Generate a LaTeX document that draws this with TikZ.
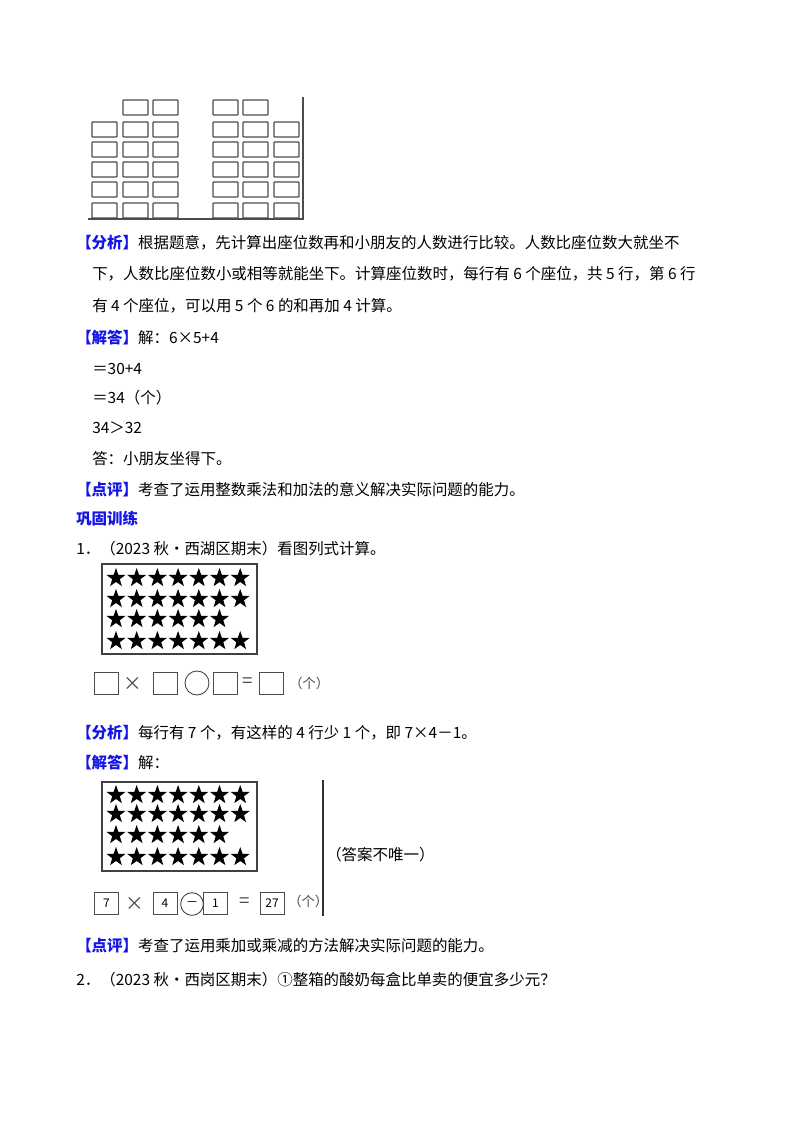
\documentclass[tikz,border=0pt]{standalone}
\usepackage{fontspec}
\setmainfont{Noto Sans CJK SC}
\usetikzlibrary{shapes.geometric}
\definecolor{kblue}{RGB}{20,20,230}
\begin{document}
\begin{tikzpicture}[x=0.75pt,y=-0.75pt,
  txt/.style={anchor=west,inner sep=0,font=\fontsize{11.6}{14}\selectfont},
  seat/.style={draw=black!70,line width=0.9pt,rounded corners=0.5pt},
  starn/.style={star,star points=5,star point ratio=2.5,fill=black,inner sep=0,minimum size=15pt},
  abox/.style={draw=black!70,line width=0.7pt,minimum width=18pt,minimum height=16.5pt,inner sep=0,font=\fontsize{10}{12}\selectfont},
  sym/.style={inner sep=0,text=black!70,font=\fontsize{14}{16}\selectfont},
  frame/.style={draw=black!75,line width=1.1pt}]
\useasboundingbox (0,0) rectangle (800,1132);
\fill[white] (0,0) rectangle (800,1132);
% seat grid
\draw[black!70,line width=0.8pt] (303,97) -- (303,220) (88,219) -- (303,219);
\foreach \r/\y in {1/122,2/142,3/162,4/182,5/203}{
  \foreach \c/\x in {1/92,2/123,3/153,4/213,5/243,6/274}{
    \draw[seat] (\x,\y) rectangle ++(25,15);}}
\foreach \x in {123,153,213,243}{\draw[seat] (\x,100) rectangle ++(25,15);}
% text block 1
\node[txt] (a1) at (76,243) {{\color{kblue}\bfseries【分析】}根据题意，先计算出座位数再和小朋友的人数进行比较。人数比座位数大就坐不};
\node[txt] (a2) at (92,274) {下，人数比座位数小或相等就能坐下。计算座位数时，每行有 6 个座位，共 5 行，第 6 行};
\node[txt] (a3) at (92,306) {有 4 个座位，可以用 5 个 6 的和再加 4 计算。};
\node[txt] (a4) at (76,338) {{\color{kblue}\bfseries【解答】}解：6×5+4};
\node[txt] (a5) at (92,369) {＝30+4};
\node[txt] (a6) at (92,398) {＝34（个）};
\node[txt] (a7) at (92,428) {34＞32};
\node[txt] (a8) at (92,459) {答：小朋友坐得下。};
\node[txt] (a9) at (76,490) {{\color{kblue}\bfseries【点评】}考查了运用整数乘法和加法的意义解决实际问题的能力。};
\node[txt,text=kblue,font=\fontsize{11.6}{14}\bfseries] (a10) at (76,519) {巩固训练};
\node[txt] (a11) at (76,549) {1．（2023 秋•西湖区期末）看图列式计算。};
% star box 1
\draw[frame] (102,564) rectangle (257,654);
\foreach \y/\n in {578/7,599/7,619/6,641/7}{
  \foreach \i in {1,...,\n}{
    \node[starn] (s\y-\i) at ({116+20.7*(\i-1)},\y) {};}}
\node[abox] (b1) at (106.5,683) {};
\node[sym] (m1) at (133,684) {×};
\node[abox] (b2) at (165,683) {};
\draw[black!70,line width=0.7pt] (197,683) circle (12);
\node[abox] (b3) at (225,683) {};
\node[sym] (e1) at (248,683) {=};
\node[abox] (b4) at (271.5,683) {};
\node[txt,font=\fontsize{10}{12}\selectfont,text=black!70] (g1) at (289,683) {（个）};
% text block 2
\node[txt] (c1) at (76,733) {{\color{kblue}\bfseries【分析】}每行有 7 个，有这样的 4 行少 1 个，即 7×4－1。};
\node[txt] (c2) at (76,763) {{\color{kblue}\bfseries【解答】}解：};
% star box 2
\draw[frame] (102,782) rectangle (257,871);
\foreach \y/\n in {795/7,814/7,835/6,857/7}{
  \foreach \i in {1,...,\n}{
    \node[starn] (t\y-\i) at ({116+20.7*(\i-1)},\y) {};}}
\draw[black!80,line width=0.8pt] (323,780) -- (323,916);
\node[abox,font=\fontsize{9}{10}\selectfont] (d1) at (106.5,903) {7};
\node[sym] (m2) at (135,904) {×};
\node[abox,font=\fontsize{9}{10}\selectfont] (d2) at (165,903) {4};
\node[draw=black!70,line width=0.7pt,circle,minimum size=17pt,inner sep=0,font=\fontsize{9}{10}\selectfont] (d3) at (192,904) {－};
\node[abox,font=\fontsize{9}{10}\selectfont] (d4) at (215.5,903) {1};
\node[sym] (e2) at (245,903) {=};
\node[abox,font=\fontsize{9}{10}\selectfont] (d5) at (272,903) {27};
\node[txt,font=\fontsize{10}{12}\selectfont,text=black!70] (g2) at (288,901) {（个）};
\node[txt] (n1) at (326,855) {（答案不唯一）};
\node[txt] (c3) at (76,946) {{\color{kblue}\bfseries【点评】}考查了运用乘加或乘减的方法解决实际问题的能力。};
\node[txt] (c4) at (76,980) {2．（2023 秋•西岗区期末）①整箱的酸奶每盒比单卖的便宜多少元？};
\end{tikzpicture}
\end{document}
